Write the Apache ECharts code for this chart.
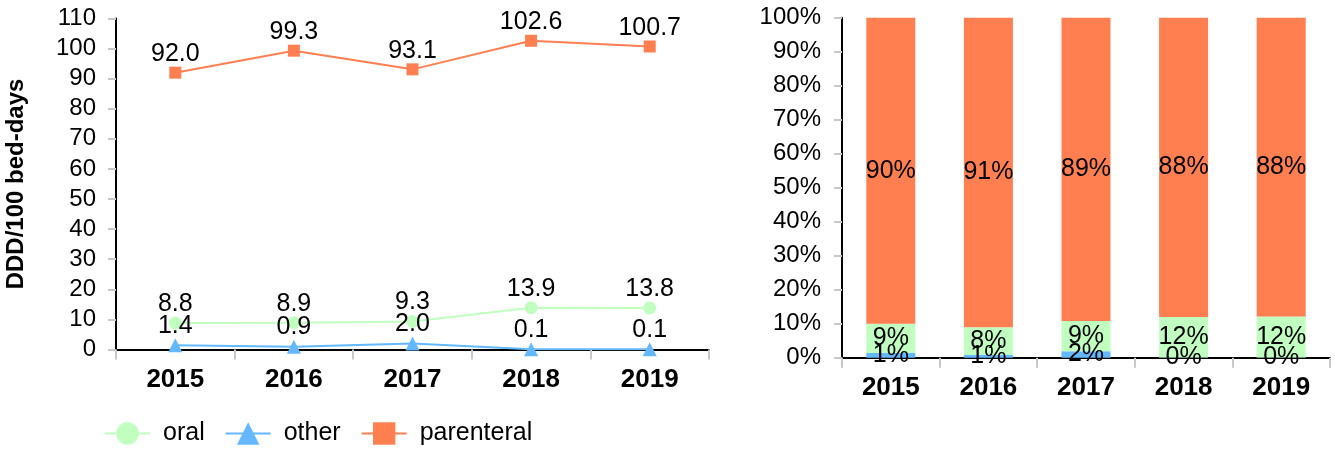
<!DOCTYPE html>
<html><head><meta charset="utf-8">
<script src="https://cdn.jsdelivr.net/npm/echarts@6/dist/echarts.min.js"></script>
<style>html,body{margin:0;padding:0;background:#fff}#c{width:1335px;height:449px}</style>
</head><body><div id="c"></div>
<script>
const years = ['2015', '2016', '2017', '2018', '2019'];
const oral = [8.8, 8.9, 9.3, 13.9, 13.8];
const other = [1.4, 0.9, 2.0, 0.1, 0.1];
const parenteral = [92.0, 99.3, 93.1, 102.6, 100.7];
const seriesNames = ['oral', 'other', 'parenteral'];
const colors = { oral: '#C1FFC1', other: '#63B8FF', parenteral: '#FF7F50' };
const yTitle = 'DDD/100 bed-days';

const totals = years.map((_, i) => oral[i] + other[i] + parenteral[i]);
const pct = arr => arr.map((v, i) => v / totals[i] * 100);

const FONT = '"Liberation Sans", Arial, sans-serif';
const axisLineStyle = { show: true, lineStyle: { color: '#000', width: 2 } };
const tickStyle = { color: '#c8c8c8', width: 2 };

const chart = echarts.init(document.getElementById('c'), null, { renderer: 'canvas' });

function lineSeries(name, data, symbol, size) {
  return {
    name, type: 'line', xAxisIndex: 0, yAxisIndex: 0, data,
    symbol, symbolSize: size, color: colors[name],
    lineStyle: { width: 2, color: colors[name] },
    itemStyle: { color: colors[name] },
    label: { show: true, position: 'top', distance: 0, fontSize: 25, fontFamily: FONT, color: '#000',
      formatter: p => p.value.toFixed(1) },
    z: 3
  };
}
function barSeries(name, data) {
  return {
    name, type: 'bar', xAxisIndex: 1, yAxisIndex: 1, stack: 'share', data,
    barWidth: 49, color: colors[name], itemStyle: { color: colors[name] },
    label: { show: true, position: 'inside', fontSize: 25, fontFamily: FONT, color: '#000',
      formatter: p => Math.round(p.value) + '%' }
  };
}

chart.setOption({
  animation: false,
  textStyle: { fontFamily: FONT },
  legend: {
    data: seriesNames, left: 104, top: 421, padding: 0,
    itemWidth: 45, itemHeight: 28, itemGap: 20,
    textStyle: { fontSize: 25, color: '#000', fontFamily: FONT, padding: [0, 0, 0, 8] }
  },
  grid: [
    { left: 116, top: 18.5, width: 593, height: 331, containLabel: false },
    { left: 842, top: 17.7, width: 488, height: 340, containLabel: false }
  ],
  xAxis: [
    { type: 'category', gridIndex: 0, data: years, boundaryGap: true,
      axisLine: axisLineStyle, axisTick: { show: true, length: 10, lineStyle: tickStyle },
      axisLabel: { fontSize: 26, fontWeight: 'bold', color: '#000', margin: 17, fontFamily: FONT } },
    { type: 'category', gridIndex: 1, data: years, boundaryGap: true,
      axisLine: axisLineStyle, axisTick: { show: true, length: 10, lineStyle: tickStyle },
      axisLabel: { fontSize: 26, fontWeight: 'bold', color: '#000', margin: 17, fontFamily: FONT } }
  ],
  yAxis: [
    { type: 'value', gridIndex: 0, min: 0, max: 110, interval: 10,
      name: yTitle, nameLocation: 'middle', nameGap: 88, nameRotate: 90,
      nameTextStyle: { fontSize: 24, fontWeight: 'bold', color: '#000', fontFamily: FONT },
      axisLine: axisLineStyle, axisTick: { show: true, length: 8, lineStyle: tickStyle },
      splitLine: { show: false },
      axisLabel: { fontSize: 24, color: '#000', margin: 20, fontFamily: FONT } },
    { type: 'value', gridIndex: 1, min: 0, max: 100, interval: 10,
      axisLine: axisLineStyle, axisTick: { show: true, length: 8, lineStyle: tickStyle },
      splitLine: { show: false },
      axisLabel: { fontSize: 24, color: '#000', margin: 21, fontFamily: FONT, formatter: '{value}%' } }
  ],
  series: [
    lineSeries('oral', oral, 'circle', 13),
    lineSeries('other', other, 'triangle', 14),
    lineSeries('parenteral', parenteral, 'rect', 12),
    barSeries('other', pct(other)),
    barSeries('oral', pct(oral)),
    barSeries('parenteral', pct(parenteral))
  ]
});
</script>
</body></html>
